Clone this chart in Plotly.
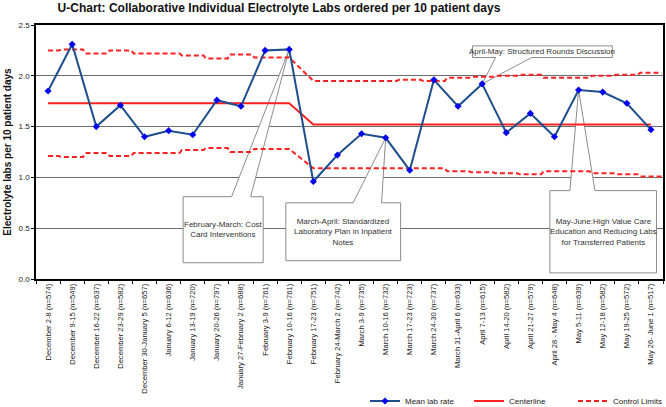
import plotly.graph_objects as go

weeks = [
    "December 2-8 (n=574)", "December 9-15 (n=549)", "December 16-22 (n=637)",
    "December 23-29 (n=582)", "December 30-January 5 (n=657)", "January 6-12 (n=636)",
    "January 13-19 (n=720)", "January 20-26 (n=797)", "January 27-February 2 (n=688)",
    "February 3-9 (n=761)", "February 10-16 (n=761)", "February 17-23 (n=751)",
    "February 24-March 2 (n=742)", "March 3-9 (n=735)", "March 10-16 (n=732)",
    "March 17-23 (n=723)", "March 24-30 (n=737)", "March 31-April 6 (n=633)",
    "April 7-13 (n=615)", "April 14-20 (n=582)", "April 21-27 (n=579)",
    "April 28 - May 4 (n=648)", "May 5-11 (n=639)", "May 12-18 (n=582)",
    "May 19-25 (n=572)", "May 26- June 1 (n=517)",
]
mean_rate = [1.85, 2.31, 1.50, 1.71, 1.40, 1.46, 1.42, 1.76, 1.70, 2.25, 2.26,
             0.96, 1.22, 1.43, 1.39, 1.07, 1.96, 1.70, 1.92, 1.44, 1.63, 1.40,
             1.86, 1.84, 1.73, 1.47]
centerline = [1.73] * 11 + [1.52] * 15
ucl = [2.25, 2.26, 2.22, 2.25, 2.22, 2.22, 2.20, 2.17, 2.21, 2.18, 2.18,
       1.95, 1.95, 1.95, 1.95, 1.96, 1.95, 1.98, 1.99, 2.00, 2.01, 1.98,
       1.98, 2.00, 2.01, 2.03]
lcl = [1.21, 1.20, 1.24, 1.21, 1.24, 1.24, 1.27, 1.29, 1.25, 1.28, 1.28,
       1.09, 1.09, 1.09, 1.09, 1.09, 1.09, 1.06, 1.05, 1.04, 1.03, 1.06,
       1.06, 1.04, 1.03, 1.01]
phase_start = 11  # first week of the second phase

callouts = [
    # text, week index pointed at, box (x0, x1, y0, y1), pointer base (xa, xb), side
    ("February-March: Cost<br>Card Interventions", 10, (5.6, 8.92, 0.16, 0.81), (7.61, 8.40), "top"),
    ("March-April: Standardized<br>Laboratory Plan in Inpatient<br>Notes", 14, (9.86, 14.62, 0.18, 0.75), (12.65, 13.83), "top"),
    ("April-May: Structured Rounds Discussion", 18, (17.6, 23.4, 2.18, 2.295), (18.56, 20.05), "bottom"),
    ("May-June:High Value Care<br>Education and Reducing Labs<br>for Transferred Patients", 22, (20.81, 25.23, 0.06, 0.87), (21.64, 22.68), "top"),
]

xi = list(range(len(weeks)))


def step_path(vals):
    xs, ys = [], []
    n = len(vals)
    for i, v in enumerate(vals):
        left = i if i == phase_start else i - 0.45
        right = i if i == phase_start - 1 else i + 0.45
        if i == 0:
            left = i
        if i == n - 1:
            right = i + 0.45
        xs += [left, right]
        ys += [v, v]
    return xs, ys


fig = go.Figure()

ux, uy = step_path(ucl)
lx, ly = step_path(lcl)
fig.add_trace(go.Scatter(x=ux, y=uy, mode="lines", name="Control Limits",
                         line=dict(color="#FF2020", width=2, dash="5px,3px"),
                         legendrank=3))
fig.add_trace(go.Scatter(x=lx, y=ly, mode="lines", showlegend=False,
                         line=dict(color="#FF2020", width=2, dash="5px,3px")))
fig.add_trace(go.Scatter(x=xi, y=centerline, mode="lines", name="Centerline",
                         line=dict(color="#FF2020", width=2), legendrank=2))
fig.add_trace(go.Scatter(x=xi, y=mean_rate, mode="lines+markers", name="Mean lab rate",
                         line=dict(color="#1F4E8C", width=2),
                         marker=dict(symbol="diamond", size=5.5, color="#0000EE"),
                         legendrank=1))

shapes = []
annotations = []
for text, idx, (x0, x1, y0, y1), (xa, xb), side in callouts:
    tx, ty = idx, mean_rate[idx]
    if side == "top":
        path = (f"M{x0},{y0} L{x0},{y1} L{xa},{y1} L{tx},{ty} L{xb},{y1} "
                f"L{x1},{y1} L{x1},{y0} Z")
    else:
        path = (f"M{x0},{y1} L{x1},{y1} L{x1},{y0} L{xb},{y0} L{tx},{ty} "
                f"L{xa},{y0} L{x0},{y0} Z")
    shapes.append(dict(type="path", path=path, xref="x", yref="y",
                       line=dict(color="#8C8C8C", width=1), fillcolor="white",
                       layer="between"))
    annotations.append(dict(x=(x0 + x1) / 2, y=(y0 + y1) / 2, xref="x", yref="y",
                            text=text, showarrow=False,
                            font=dict(family="Liberation Sans, Arial", size=8, color="#333333")))

fig.update_layout(
    width=666, height=407,
    margin=dict(l=36, r=3, t=25, b=128, autoexpand=False),
    paper_bgcolor="white", plot_bgcolor="white",
    font=dict(family="Liberation Sans, Arial", color="#222222"),
    title=dict(text="<b>U-Chart: Collaborative Individual Electrolyte Labs ordered per 10 patient days</b>",
               x=(279 - 36) / 627, xref="paper", xanchor="center",
               y=1 - 8 / 407, yref="container", yanchor="middle",
               font=dict(size=12, color="#111111")),
    showlegend=True,
    legend=dict(orientation="h", x=(365 - 36) / 627, xanchor="left",
                yref="container", y=6 / 407, yanchor="middle",
                entrywidth=59, entrywidthmode="pixels",
                font=dict(size=8, color="#222222"), bgcolor="rgba(0,0,0,0)",
                traceorder="normal"),
    shapes=shapes,
    annotations=annotations,
)
fig.update_xaxes(
    range=[-0.5, len(weeks) - 0.5], tickmode="array", tickvals=xi, ticktext=weeks,
    tickangle=-90, tickfont=dict(size=7.6, color="#222222"), automargin=False,
    showgrid=False, zeroline=False, ticks="",
    minor=dict(tick0=-0.5, dtick=1, ticks="outside", ticklen=3, tickcolor="black"),
    showline=True, linecolor="black", linewidth=1.5, mirror=True,
)
fig.update_yaxes(
    range=[0, 2.5], tickmode="linear", tick0=0, dtick=0.5, tickformat=".1f",
    tickfont=dict(size=8, color="#222222"), automargin=False,
    ticks="outside", ticklen=3, tickcolor="black",
    showgrid=True, gridcolor="#6E6E6E", gridwidth=1, zeroline=False,
    showline=True, linecolor="black", linewidth=1.5, mirror=True,
    title=dict(text="<b>Electrolyte labs per 10 patient days</b>",
               font=dict(size=10, color="#111111"), standoff=5),
)

fig.write_html("out.html", config={"displayModeBar": False})
with open("out.html", encoding="utf-8") as f:
    html = f.read()
html = html.replace("<head>", "<head><style>html,body{margin:0;padding:0;overflow:hidden}</style>", 1)
with open("out.html", "w", encoding="utf-8") as f:
    f.write(html)
